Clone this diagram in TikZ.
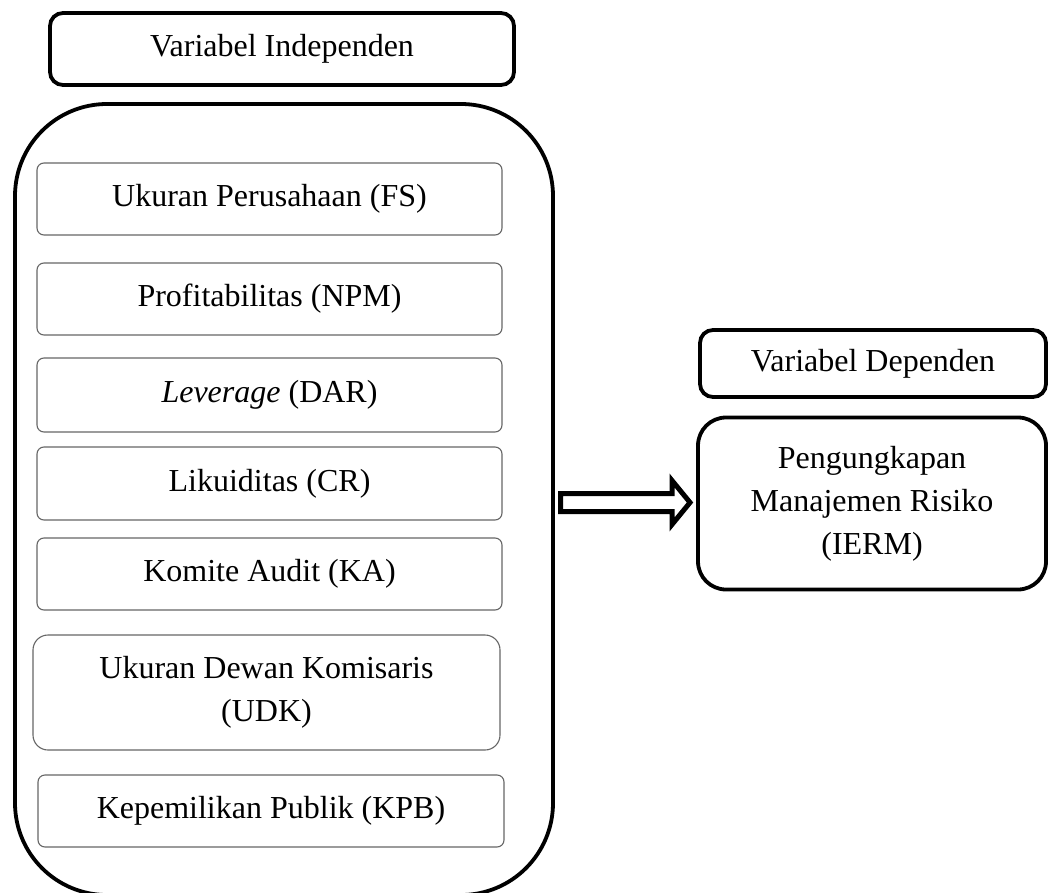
\documentclass[tikz,border=0pt]{standalone}
\usepackage{fontspec}
\setmainfont{Liberation Serif}
\begin{document}
\begin{tikzpicture}[x=1pt,y=-1pt,
  every node/.style={font=\fontsize{32}{43}\selectfont, align=center, inner sep=0pt},
  thickbox/.style={draw=black, line width=3.8pt},
  itembox/.style={draw=black!60, line width=1.1pt, rounded corners=7pt},
  arrowbody/.style={draw=black, line width=5pt, fill=white, line join=miter}]
\useasboundingbox (0,0) rectangle (1049,893);
% header
\node[thickbox, rounded corners=13pt, minimum width=464pt, minimum height=72pt] (indep) at (282,49) {Variabel Independen};
% container
\node[thickbox, rounded corners=92pt, minimum width=538pt, minimum height=791pt] (cont) at (284,499.5) {};
% items
\node[itembox, minimum width=465pt, minimum height=72pt] (fs) at (269.5,199) {Ukuran Perusahaan (FS)};
\node[itembox, minimum width=465pt, minimum height=72pt] (npm) at (269.5,299) {Profitabilitas (NPM)};
\node[itembox, minimum width=465pt, minimum height=74pt] (dar) at (269.5,395) {\textit{Leverage} (DAR)};
\node[itembox, minimum width=465pt, minimum height=73pt] (cr) at (269.5,483.5) {Likuiditas (CR)};
\node[itembox, minimum width=465pt, minimum height=72pt] (ka) at (269.5,574) {Komite Audit (KA)};
\node[itembox, rounded corners=15pt, minimum width=467pt, minimum height=115pt] (udk) at (266.5,692.5) {Ukuran Dewan Komisaris\\(UDK)};
\node[itembox, minimum width=466pt, minimum height=72pt] (kpb) at (271,811) {Kepemilikan Publik (KPB)};
% dependent
\node[thickbox, rounded corners=13pt, minimum width=346pt, minimum height=67pt] (dep) at (873,363.5) {Variabel Dependen};
\node[thickbox, rounded corners=28pt, minimum width=348pt, minimum height=172pt] (ierm) at (872,503.5) {Pengungkapan\\Manajemen Risiko\\(IERM)};
% arrow from container to IERM
\coordinate (s1) at (560.5,493.5);
\coordinate (s2) at (672,493.5);
\coordinate (h1) at (672,480.5);
\coordinate (tip) at (690,502.5);
\coordinate (h2) at (672,524.5);
\coordinate (s3) at (672,511.5);
\coordinate (s4) at (560.5,511.5);
\draw[arrowbody] (s1) -- (s2) -- (h1) -- (tip) -- (h2) -- (s3) -- (s4) -- cycle;
\end{tikzpicture}
\end{document}
